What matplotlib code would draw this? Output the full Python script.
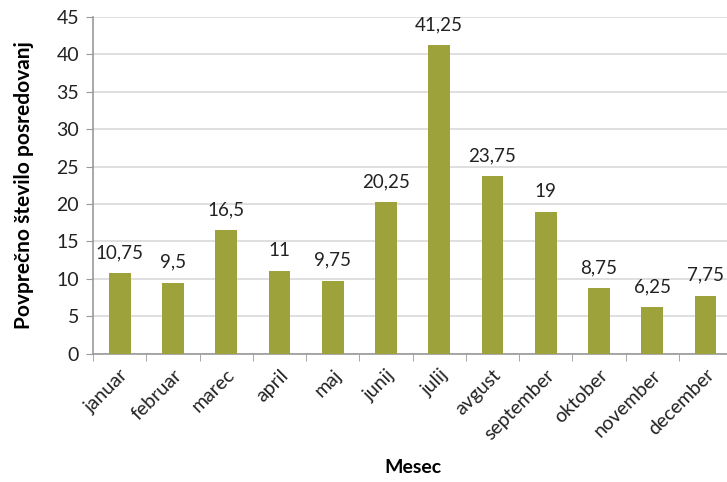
import matplotlib
matplotlib.use('Agg')
import matplotlib.pyplot as plt
import numpy as np

months = ['januar', 'februar', 'marec', 'april', 'maj', 'junij', 'julij',
          'avgust', 'september', 'oktober', 'november', 'december']
values = [10.75, 9.5, 16.5, 11, 9.75, 20.25, 41.25, 23.75, 19, 8.75, 6.25, 7.75]
yticks = [0, 5, 10, 15, 20, 25, 30, 35, 40, 45]

plt.rcParams['font.family'] = ['Lato', 'DejaVu Sans']

fig = plt.figure(figsize=(7.27, 4.82), dpi=100)
# plot area runs a bit past the right edge, like the source
ax = fig.add_axes([0.128, 0.266, 0.879, 0.699])

x = np.arange(len(months))
ax.bar(x, values, width=0.41, color='#9ea23a', zorder=3)

for xi, v in zip(x, values):
    label = ('%g' % v).replace('.', ',')
    ax.text(xi, v + 1.6, label, ha='center', va='bottom', fontsize=13.5, color='#222222')

ax.set_xlim(-0.5, len(months) - 0.5)
ax.set_ylim(0, 45)
ax.set_yticks(yticks)
ax.set_yticklabels([str(t) for t in yticks], fontsize=14, color='#222222')
ax.yaxis.grid(True, color='#d9d9d9', linewidth=1.2, zorder=0)

ax.set_xticks(x)
ax.set_xticklabels(months, rotation=45, ha='right', rotation_mode='anchor',
                   fontsize=14, color='#222222')
ax.tick_params(axis='x', length=0, pad=9)
ax.set_xticks(np.arange(-0.5, len(months), 1), minor=True)
ax.tick_params(axis='x', which='minor', length=5, color='#999999')
ax.tick_params(axis='y', length=5, color='#999999', pad=5)

for side in ['top', 'right']:
    ax.spines[side].set_visible(False)
for side in ['left', 'bottom']:
    ax.spines[side].set_color('#999999')
    ax.spines[side].set_linewidth(1.2)

ax.set_ylabel('Povprečno število posredovanj', fontsize=15, fontweight='bold', labelpad=16)
ax.set_xlabel('Mesec', fontsize=14, fontweight='bold', labelpad=12)

fig.savefig('out.png', dpi=100)
